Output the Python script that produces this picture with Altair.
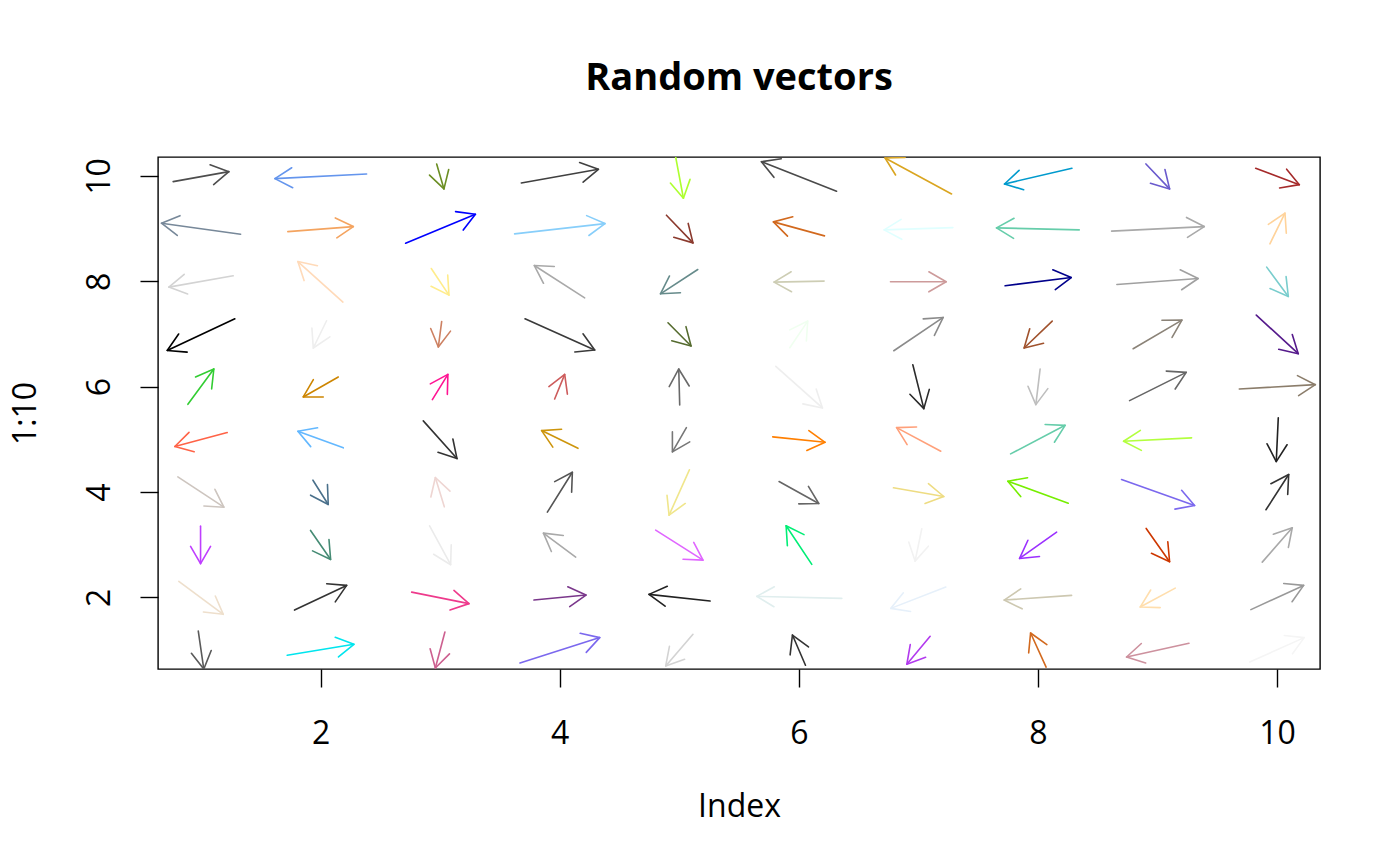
import altair as alt
import numpy as np
import pandas as pd

# ---- data (tail x0,y0 -> tip x1,y1), rows 10 .. 1, columns 1 .. 10
x0 = [0.767, 2.385, 2.971, 3.679, 4.965, 6.316, 7.278, 8.285, 8.904, 9.822,
      1.331, 1.726, 2.711, 3.623, 4.893, 6.215, 7.289, 8.346, 8.617, 9.941,
      1.269, 2.187, 2.926, 4.209, 5.155, 6.212, 6.767, 7.726, 8.661, 9.914,
      1.283, 2.050, 3.013, 3.710, 4.906, 5.925, 6.795, 8.120, 8.797, 9.827,
      0.890, 2.148, 2.935, 3.958, 5.004, 5.808, 6.954, 8.019, 8.767, 9.685,
      1.219, 2.190, 2.859, 4.153, 5.060, 5.782, 7.188, 7.772, 9.286, 10.011,
      0.806, 1.936, 3.035, 3.897, 5.085, 5.835, 6.792, 8.254, 8.700, 9.908,
      0.996, 1.916, 2.912, 4.134, 4.803, 6.109, 7.029, 8.157, 8.906, 9.877,
      0.814, 1.782, 2.762, 3.785, 5.258, 6.360, 7.230, 8.282, 9.149, 9.782,
      0.977, 1.721, 3.040, 3.668, 5.115, 6.056, 7.099, 8.069, 9.264, 9.772]
y0 = [9.892, 10.038, 10.228, 9.867, 10.423, 9.710, 9.659, 10.146, 10.228, 10.146,
      8.895, 8.944, 8.724, 8.900, 9.255, 8.863, 9.020, 8.976, 8.952, 8.711,
      8.104, 7.606, 8.243, 7.687, 8.224, 8.004, 7.991, 7.915, 7.939, 8.269,
      7.289, 7.251, 7.238, 7.289, 7.213, 6.739, 6.682, 7.245, 6.720, 7.359,
      5.665, 6.184, 5.754, 5.767, 5.653, 6.385, 6.417, 6.336, 5.735, 5.956,
      5.128, 4.838, 5.350, 4.830, 5.223, 5.046, 4.774, 4.724, 5.028, 5.407,
      4.288, 4.224, 3.719, 3.617, 4.421, 4.199, 4.080, 3.788, 4.237, 3.663,
      3.352, 3.270, 3.359, 2.764, 3.276, 2.626, 3.302, 3.238, 3.308, 2.669,
      2.303, 1.759, 2.100, 1.949, 1.930, 1.981, 2.195, 2.038, 2.176, 1.767,
      1.361, 0.900, 1.342, 0.755, 1.299, 0.711, 1.261, 0.677, 1.128, 0.773]
x1 = [1.233, 1.618, 3.032, 4.324, 5.035, 5.688, 6.722, 7.721, 9.102, 10.187,
      0.669, 2.274, 3.295, 4.379, 5.115, 5.788, 6.714, 7.654, 9.392, 10.067,
      0.731, 1.810, 3.074, 3.788, 4.843, 5.793, 7.233, 8.279, 9.341, 10.095,
      0.717, 1.939, 2.985, 4.293, 5.099, 6.075, 7.208, 7.885, 9.205, 10.178,
      1.107, 1.855, 3.065, 4.042, 4.996, 6.198, 7.046, 7.983, 9.241, 10.321,
      0.781, 1.810, 3.141, 3.849, 4.943, 6.220, 6.818, 8.228, 8.717, 9.994,
      1.191, 2.064, 2.960, 4.106, 4.915, 6.167, 7.213, 7.749, 9.311, 10.098,
      0.996, 2.084, 3.088, 3.864, 5.199, 5.894, 6.973, 7.847, 9.102, 10.128,
      1.186, 2.218, 3.241, 4.220, 4.747, 5.649, 6.770, 7.718, 8.856, 10.223,
      1.023, 2.279, 2.960, 4.335, 4.887, 5.947, 6.904, 7.939, 8.742, 10.228]
y1 = [10.082, 9.949, 9.754, 10.127, 9.577, 10.271, 10.341, 9.848, 9.754, 9.835,
      9.103, 9.039, 9.274, 9.096, 8.730, 9.128, 8.976, 9.014, 9.039, 9.293,
      7.890, 8.375, 7.738, 8.300, 7.763, 7.985, 7.991, 8.072, 8.053, 7.712,
      6.688, 6.734, 6.753, 6.696, 6.772, 7.245, 7.314, 6.734, 7.264, 6.626,
      6.336, 5.805, 6.233, 6.233, 6.336, 5.596, 5.583, 5.659, 6.271, 6.038,
      4.863, 5.153, 4.635, 5.166, 4.762, 4.944, 5.223, 5.266, 4.963, 4.578,
      3.712, 3.763, 4.275, 4.375, 3.560, 3.782, 3.915, 4.205, 3.744, 4.332,
      2.639, 2.720, 2.620, 3.219, 2.707, 3.359, 2.688, 2.739, 2.677, 3.321,
      1.678, 2.227, 1.881, 2.044, 2.057, 2.019, 1.791, 1.949, 1.816, 2.227,
      0.639, 1.109, 0.658, 1.236, 0.698, 1.285, 0.730, 1.323, 0.868, 1.236]
colors = ["#4D4D4D", "#6495ED", "#6B8E23", "#404040", "#ADFF2F", "#4A4A4A", "#DAA520", "#009ACD", "#6A5ACD", "#A52A2A",
          "#778899", "#F4A460", "#0000FF", "#87CEFA", "#8B3A2E", "#D2691E", "#E0FFFF", "#66CDAA", "#A9A9A9", "#FFD39B",
          "#D3D3D3", "#FFDAB9", "#FFEC8B", "#A9A9A9", "#668B8B", "#CDCDB4", "#CD9B9B", "#00008B", "#A0A0A0", "#79CDCD",
          "#000000", "#EEEEEE", "#CD8162", "#3A3A3A", "#556B2F", "#F0FFF0", "#8B8B8B", "#A0522D", "#8B8378", "#551A8B",
          "#32CD32", "#CD8500", "#FF1493", "#CD5C5C", "#696969", "#EEEEEE", "#2B2B2B", "#BEBEBE", "#666666", "#8B7D6B",
          "#FF6347", "#63B8FF", "#333333", "#CD950C", "#777777", "#FF7F00", "#FFA07A", "#66CDAA", "#B3FF3E", "#222222",
          "#CDC5BF", "#4A708B", "#EED5D2", "#555555", "#F0E68C", "#666666", "#EEDC82", "#76EE00", "#7B68EE", "#333333",
          "#BF3EFF", "#458B74", "#EBEBEB", "#A9A9A9", "#E066FF", "#00EE76", "#F2F2F2", "#9B30FF", "#CD3700", "#A9A9A9",
          "#EEDFCC", "#333333", "#EE3A8C", "#7A378B", "#222222", "#E0EEEE", "#E6F0FA", "#CDC8B1", "#FFDEAD", "#999999",
          "#5A5A5A", "#00E5EE", "#CD6090", "#7B68EE", "#D3D3D3", "#333333", "#B23AEE", "#D2691E", "#CD919E", "#F5F5F5"]
x_ticks = [2, 4, 6, 8, 10]
y_ticks = [2, 4, 6, 8, 10]

# ---- layout
W, H = 1162, 512
XD = [0.64, 10.36]
YD = [0.64, 10.36]
FONT = "Open Sans"
LW = 1.4
ALW = 1.6
FS = 32

df = pd.DataFrame({"x0": x0, "y0": y0, "x1": x1, "y1": y1, "col": colors})
# screen-space direction of each arrow -> rotation of the arrowhead symbol
sx = W / (XD[1] - XD[0])
sy = H / (YD[1] - YD[0])
df["ang"] = (np.degrees(np.arctan2((df.x1 - df.x0) * sx, (df.y1 - df.y0) * sy)) + 360.0) % 360.0

ARROWHEAD = "M -0.5 0.866 L 0 0 L 0.5 0.866"

xs = alt.Scale(domain=XD, nice=False, zero=False)
ys = alt.Scale(domain=YD, nice=False, zero=False)

xaxis = alt.Axis(values=x_ticks, title="Index", labelBaseline="alphabetic", labelPadding=56,
                 labelAlign="center", titleX=W / 2, titleY=147, titleBaseline="alphabetic",
                 titleAlign="center", format="d", grid=False, domain=False)
yaxis = alt.Axis(values=y_ticks, title="1:10", labelAngle=270, labelAlign="center",
                 labelBaseline="alphabetic", labelPadding=31, titleAngle=270, titleX=-123,
                 titleY=H / 2, titleAlign="center", titleBaseline="alphabetic", format="d",
                 grid=False, domain=False)

shafts = alt.Chart(df).mark_rule(clip=True, strokeWidth=ALW, strokeCap="round").encode(
    x=alt.X("x0:Q", scale=xs, axis=xaxis),
    y=alt.Y("y0:Q", scale=ys, axis=yaxis),
    x2="x1:Q",
    y2="y1:Q",
    color=alt.Color("col:N", scale=None),
)

heads = alt.Chart(df).mark_point(
    clip=True, shape=ARROWHEAD, size=1600, filled=False, strokeWidth=ALW, opacity=1,
    strokeCap="round", strokeJoin="round",
).encode(
    x=alt.X("x1:Q", scale=xs),
    y=alt.Y("y1:Q", scale=ys),
    angle=alt.Angle("ang:Q", scale=None),
    color=alt.Color("col:N", scale=None),
)

chart = alt.layer(shafts, heads).properties(
    width=W,
    height=H,
    background="white",
    title=alt.TitleParams("Random vectors", font=FONT, fontSize=38, fontWeight="bold",
                          color="black", anchor="middle", baseline="alphabetic", offset=29),
    autosize=alt.AutoSizeParams(type="none"),
    padding={"left": 150, "top": 149, "right": 72, "bottom": 189},
).configure_view(
    stroke="black", strokeWidth=LW
).configure_axis(
    domain=False, grid=False, ticks=True, tickSize=18, tickWidth=LW, tickColor="black",
    labelFont=FONT, labelFontSize=FS, labelColor="black",
    titleFont=FONT, titleFontSize=FS, titleFontWeight="normal", titleColor="black",
)

chart.save("out.html", embed_options={"renderer": "svg", "actions": False})
